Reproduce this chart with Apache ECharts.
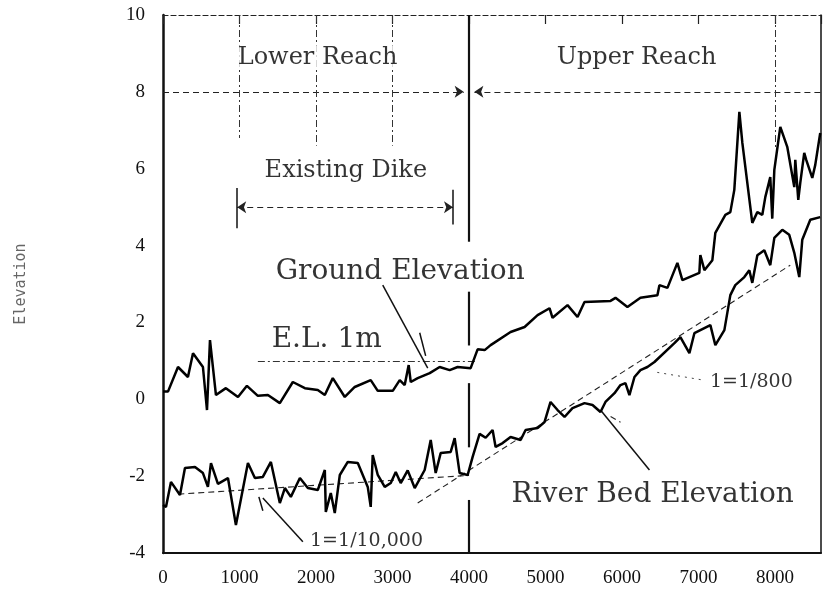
<!DOCTYPE html>
<html>
<head>
<meta charset="utf-8">
<script src="https://cdn.jsdelivr.net/npm/echarts@6/dist/echarts.min.js"></script>
<style>
    html, body { margin: 0; padding: 0; background: #fff; }
    #chart { width: 824px; height: 605px; }
</style>
</head>
<body>
<div id="chart"></div>
<script>
/* longitudinal profile - distance (m) vs elevation (m) */
var groundX = [0, 65, 196, 326, 392, 522, 575, 614, 692, 822, 980, 1097, 1240, 1371, 1527, 1697, 1854, 2023, 2115, 2219,
    2376, 2506, 2715, 2807, 3003, 3094, 3159, 3211, 3238, 3329, 3486, 3616, 3747, 3851, 4021, 4112, 4204, 4282, 4543, 4726,
    4896, 5052, 5091, 5287, 5418, 5509, 5849, 5914, 6070, 6240, 6462, 6488, 6593, 6723, 6788, 7010, 7023, 7076, 7180, 7219,
    7350, 7415, 7467, 7533, 7572, 7702, 7768, 7833, 7872, 7937, 7963, 7990, 8068, 8159, 8251, 8264, 8303, 8329, 8381, 8407,
    8486, 8525, 8590];
var groundY = [0.2, 0.2, 0.84, 0.58, 1.2, 0.84, -0.28, 1.54, 0.11, 0.29, 0.06, 0.35, 0.09, 0.11, -0.1, 0.45, 0.29, 0.24, 0.11, 0.55,
    0.06, 0.32, 0.5, 0.22, 0.22, 0.5, 0.37, 0.89, 0.45, 0.55, 0.68, 0.84, 0.76, 0.84, 0.81, 1.3, 1.28, 1.41, 1.75, 1.88,
    2.19, 2.37, 2.12, 2.45, 2.14, 2.53, 2.56, 2.64, 2.4, 2.64, 2.71, 2.97, 2.9, 3.55, 3.1, 3.29, 3.75, 3.36, 3.62, 4.33,
    4.8, 4.87, 5.45, 7.48, 6.67, 4.59, 4.87, 4.8, 5.26, 5.78, 4.7, 5.97, 7.09, 6.57, 5.52, 6.23, 5.19, 5.63, 6.41, 6.23,
    5.76, 6.1, 6.93];

var riverX = [0, 39, 104, 222, 287, 418, 522, 587, 627, 718, 849, 953, 1110, 1201, 1305, 1410, 1527, 1593, 1671, 1789,
    1893, 2023, 2115, 2128, 2193, 2245, 2311, 2415, 2546, 2676, 2715, 2741, 2807, 2898, 2977, 3042, 3107, 3198, 3290, 3420,
    3499, 3564, 3629, 3760, 3812, 3877, 3982, 4047, 4138, 4217, 4308, 4347, 4439, 4543, 4674, 4739, 4896, 4987, 5065, 5157,
    5248, 5352, 5509, 5614, 5718, 5783, 5901, 5979, 6044, 6096, 6162, 6240, 6331, 6423, 6684, 6762, 6880, 6945, 7154, 7219,
    7337, 7415, 7480, 7598, 7663, 7702, 7768, 7859, 7937, 7990, 8094, 8185, 8251, 8316, 8355, 8460, 8590];
var riverY = [-2.75, -2.8, -2.15, -2.49, -1.79, -1.76, -1.92, -2.28, -1.66, -2.2, -2.05, -3.27, -1.66, -2.05, -2.02, -1.63, -2.7, -2.31, -2.54, -2.05,
    -2.31, -2.36, -1.84, -2.93, -2.44, -2.96, -1.97, -1.63, -1.66, -2.28, -2.8, -1.45, -1.97, -2.28, -2.18, -1.89, -2.18, -1.85, -2.31, -1.84,
    -1.06, -1.92, -1.4, -1.37, -1.01, -1.92, -1.97, -1.5, -0.9, -1.0, -0.8, -1.24, -1.14, -0.98, -1.06, -0.8, -0.75, -0.59, -0.07, -0.28,
    -0.46, -0.23, -0.1, -0.15, -0.33, -0.07, 0.16, 0.37, 0.42, 0.11, 0.58, 0.76, 0.84, 0.97, 1.46, 1.62, 1.2, 1.72, 1.93, 1.41,
    1.8, 2.71, 2.97, 3.18, 3.36, 3.03, 3.75, 3.88, 3.49, 4.2, 4.41, 4.28, 3.81, 3.18, 4.15, 4.67, 4.74];

var noteText = ['Lower Reach', 'Upper Reach', 'Existing Dike', 'Ground Elevation', 'E.L. 1m', 'River Bed Elevation', '1=1/800', '1=1/10,000'];
var noteX = [2020, 6190, 2390, 3100, 2140, 6400, 7690, 2660];
var noteY = [8.9, 8.9, 5.94, 3.31, 1.54, -2.49, 0.45, -3.69];

function pairs(xs, ys) {
    var out = [];
    for (var i = 0; i < xs.length; i++) {
        out.push([xs[i], ys[i]]);
    }
    return out;
}

function seg(x1, y1, x2, y2, style, s1, s2) {
    return [
        {coord: [x1, y1], symbol: s1 || 'none', symbolSize: 9},
        {coord: [x2, y2], symbol: s2 || 'none', symbolSize: 9, lineStyle: style}
    ];
}

var serif = 'DejaVu Serif';
var solid = {color: '#111', width: 1.5, type: 'solid'};
var thick = {color: '#111', width: 2.2, type: 'solid'};
var dashed = {color: '#222', width: 1.1, type: [6, 4]};
var dashDot = {color: '#333', width: 1, type: [7, 3, 2, 3]};

var chart = echarts.init(document.getElementById('chart'));

var option = {
    backgroundColor: '#fff',
    animation: false,
    grid: {left: 163, right: 1, top: 15, bottom: 52},
    xAxis: [
        {
            type: 'value', min: 0, max: 8600, interval: 1000,
            axisLine: {onZero: false, lineStyle: {color: '#111', width: 2}},
            axisTick: {show: false},
            splitLine: {show: false},
            axisLabel: {
                color: '#111', fontFamily: 'Liberation Serif', fontSize: 19, margin: 16,
                formatter: function (v) {
                    return v % 1000 === 0 ? String(v) : '';
                }
            }
        },
        {
            type: 'value', position: 'top', min: 0, max: 8600, interval: 1000,
            axisLine: {onZero: false, lineStyle: {color: '#222', width: 1.2, type: [5, 3]}},
            axisTick: {inside: true, length: 9, lineStyle: {color: '#222', width: 1.2}},
            splitLine: {show: false},
            axisLabel: {show: false}
        }
    ],
    yAxis: [
        {
            type: 'value', min: -4, max: 10, interval: 2,
            name: 'Elevation',
            nameLocation: 'middle',
            nameGap: 134,
            nameTextStyle: {color: '#666', fontFamily: 'DejaVu Sans Mono', fontSize: 15},
            axisLine: {onZero: false, lineStyle: {color: '#111', width: 2.5}},
            axisTick: {show: false},
            splitLine: {show: false},
            axisLabel: {color: '#111', fontFamily: 'Liberation Serif', fontSize: 19, margin: 18}
        },
        {
            type: 'value', position: 'right', min: -4, max: 10, interval: 2,
            axisLine: {show: true, onZero: false, lineStyle: {color: '#111', width: 1.5}},
            axisTick: {show: false},
            splitLine: {show: false},
            axisLabel: {show: false}
        }
    ],
    series: [
        {
            name: 'Ground Elevation',
            type: 'line',
            data: pairs(groundX, groundY),
            symbol: 'none',
            lineStyle: {color: '#000', width: 2.5},
            z: 5
        },
        {
            name: 'River Bed Elevation',
            type: 'line',
            data: pairs(riverX, riverY),
            symbol: 'none',
            lineStyle: {color: '#000', width: 2.5},
            z: 5,
            markLine: {
                silent: true,
                symbol: 'none',
                label: {show: false},
                lineStyle: solid,
                data: [
                    // reach boundary at 4000 m
                    seg(4000, 10, 4000, 4.1, thick),
                    seg(4000, 2.8, 4000, 1.4, thick),
                    seg(4000, 0.42, 4000, -1.25, thick),
                    seg(4000, -2.62, 4000, -4, thick),
                    // reach arrows at 8 m
                    seg(0, 8, 3930, 8, dashed, 'none', 'arrow'),
                    seg(4070, 8, 8600, 8, dashed, 'arrow', 'none'),
                    // upper grid lines
                    seg(1000, 10, 1000, 6.8, dashDot),
                    seg(2000, 10, 2000, 6.6, dashDot),
                    seg(3000, 10, 3000, 6.6, dashDot),
                    seg(8000, 10, 8000, 6.5, dashDot),
                    // existing dike
                    seg(970, 5, 3790, 5, dashed, 'arrow', 'arrow'),
                    seg(970, 5.5, 970, 4.45, solid),
                    seg(3790, 5.45, 3790, 4.55, solid),
                    // E.L. 1m
                    seg(1240, 1, 4100, 1, dashDot),
                    // gradient lines
                    seg(200, -2.47, 4000, -1.98, dashed),
                    seg(3329, -2.7, 8198, 3.49, dashed),
                    // leaders
                    seg(2872, 2.97, 3460, 0.81, solid),
                    seg(3355, 1.73, 3433, 1.13, solid),
                    seg(5718, -0.28, 6358, -1.84, solid),
                    seg(5850, -0.45, 5980, -0.6, dashed),
                    seg(1305, -2.57, 1828, -3.71, solid),
                    seg(1253, -2.54, 1305, -2.9, solid),
                    seg(6460, 0.7, 7060, 0.5, {color: '#444', width: 1, type: [2, 5]})
                ]
            }
        },
        {
            name: 'notes',
            type: 'scatter',
            symbolSize: 0,
            silent: true,
            z: 10,
            data: noteText.map(function (t, i) {
                var size = i < 3 ? 24 : (i < 6 ? 28 : 19);
                return {
                    value: [noteX[i], noteY[i]],
                    label: {
                        show: true,
                        position: 'inside',
                        formatter: t,
                        color: '#000',
                        textBorderWidth: 0,
                        fontFamily: serif,
                        fontSize: size,
                        backgroundColor: i < 3 ? '#fff' : 'transparent'
                    }
                };
            })
        }
    ]
};
chart.setOption(option);
</script>
</body>
</html>
